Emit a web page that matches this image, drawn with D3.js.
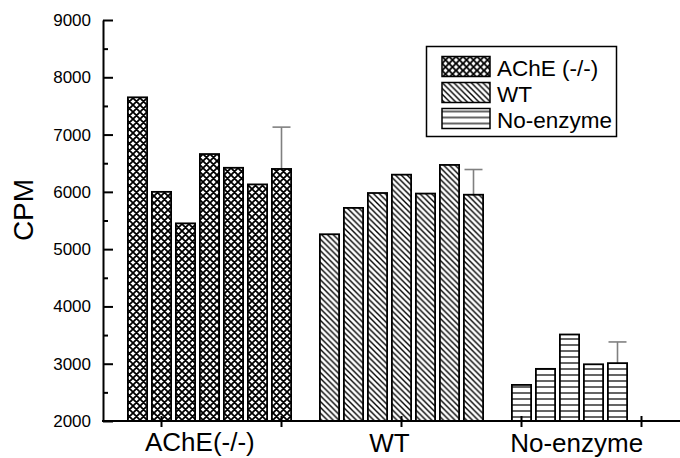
<!DOCTYPE html>
<html>
<head>
<meta charset="utf-8">
<script src="https://cdn.jsdelivr.net/npm/d3@7"></script>
<style>
  body { margin: 0; background: #fff; }
  text { font-family: "Liberation Sans", Arial, sans-serif; fill: #000; }
</style>
</head>
<body>
<div id="chart"></div>
<script>
// values
var groupNames = ["AChE(-/-)", "WT", "No-enzyme"];
var legendNames = ["AChE (-/-)", "WT", "No-enzyme"];
var acheValues = [7650, 6000, 5450, 6660, 6420, 6130, 6400];
var wtValues = [5260, 5720, 5980, 6300, 5970, 6470, 5950];
var noEnzValues = [2630, 2910, 3510, 2990, 3010];
var errValues = [730, 440, 370];   // only on last bar of each group
var yTicks = [2000, 3000, 4000, 5000, 6000, 7000, 8000, 9000];
var yMinorTicks = [2500, 3500, 4500, 5500, 6500, 7500, 8500];
var xTicks = [1, 2, 3, 4, 5];

var width = 680, height = 458;
var svg = d3.select("#chart").append("svg")
    .attr("width", width)
    .attr("height", height);

var x = d3.scaleLinear().domain([1, 5]).range([161.5, 641.5]);
var y = d3.scaleLinear().domain([2000, 9000]).range([421, 20]);
var barHalf = 0.08;

// fill patterns
var defs = svg.append("defs");
var cross = defs.append("pattern").attr("id", "p0")
    .attr("patternUnits", "userSpaceOnUse").attr("width", 7).attr("height", 7);
cross.append("rect").attr("width", 7).attr("height", 7).attr("fill", "#fff");
cross.append("path")
    .attr("d", "M0,0L7,7M-1,6L1,8M6,-1L8,1M7,0L0,7M-1,1L1,-1M6,8L8,6")
    .attr("stroke", "#000").attr("stroke-width", 1.8);

var diag = defs.append("pattern").attr("id", "p1")
    .attr("patternUnits", "userSpaceOnUse").attr("width", 5.8).attr("height", 5.8);
diag.append("rect").attr("width", 5.8).attr("height", 5.8).attr("fill", "#fff");
diag.append("path")
    .attr("d", "M0,0L5.8,5.8M-1,4.8L1,6.8M4.8,-1L6.8,1")
    .attr("stroke", "#000").attr("stroke-width", 1.4);

var horiz = defs.append("pattern").attr("id", "p2")
    .attr("patternUnits", "userSpaceOnUse").attr("width", 6).attr("height", 6);
horiz.append("rect").attr("width", 6).attr("height", 6).attr("fill", "#fff");
horiz.append("path").attr("d", "M0,3L6,3")
    .attr("stroke", "#222").attr("stroke-width", 1.4);

var series = [acheValues, wtValues, noEnzValues];
var bars = [];
series.forEach(function(vals, g) {
    vals.forEach(function(v, i) {
        bars.push({g: g, i: i, pos: 0.8 + g * 1.6 + i * 0.2, value: v,
                   last: i == vals.length - 1});
    });
});

// error bars (behind bars)
svg.append("g").selectAll("g")
    .data(bars.filter(function(d) { return d.last; }))
    .enter().append("g")
    .each(function(d) {
        var top = d.value + errValues[d.g];
        var g = d3.select(this);
        g.append("line")
            .attr("x1", x(d.pos)).attr("x2", x(d.pos))
            .attr("y1", y(d.value)).attr("y2", y(top))
            .attr("stroke", "#808080").attr("stroke-width", 1.6);
        g.append("line")
            .attr("x1", x(d.pos) - 9).attr("x2", x(d.pos) + 9)
            .attr("y1", y(top)).attr("y2", y(top))
            .attr("stroke", "#808080").attr("stroke-width", 1.6);
    });

// bars
svg.append("g").selectAll("rect")
    .data(bars)
    .enter().append("rect")
    .attr("x", function(d) { return x(d.pos - barHalf); })
    .attr("width", function(d) { return x(d.pos + barHalf) - x(d.pos - barHalf); })
    .attr("y", function(d) { return y(d.value); })
    .attr("height", function(d) { return y(2000) - y(d.value); })
    .attr("fill", function(d) { return "url(#p" + d.g + ")"; })
    .attr("stroke", "#000")
    .attr("stroke-width", 1.8);

// y axis
var yAxis = svg.append("g")
    .attr("transform", "translate(103,0)")
    .call(d3.axisLeft(y).tickValues(yTicks).tickSize(-10).tickSizeOuter(0)
        .tickPadding(12).tickFormat(d3.format("d")));
yAxis.select(".domain").attr("stroke-width", 2);
yAxis.selectAll(".tick line").attr("stroke-width", 2);
yAxis.selectAll(".tick text").style("font-size", "17px");

var yMinor = svg.append("g")
    .attr("transform", "translate(103,0)")
    .call(d3.axisLeft(y).tickValues(yMinorTicks).tickSize(-5).tickFormat(""));
yMinor.select(".domain").remove();
yMinor.selectAll(".tick line").attr("stroke-width", 2);

// x axis line and ticks
svg.append("line")
    .attr("x1", 102).attr("x2", 680)
    .attr("y1", y(2000)).attr("y2", y(2000))
    .attr("stroke", "#000").attr("stroke-width", 2);
svg.append("g").selectAll("line")
    .data(xTicks)
    .enter().append("line")
    .attr("x1", function(d) { return x(d); })
    .attr("x2", function(d) { return x(d); })
    .attr("y1", y(2000) - 5)
    .attr("y2", y(2000) + 6)
    .attr("stroke", "#000").attr("stroke-width", 2);

// category labels
var labelPos = [1.32, 2.9, 4.46];
var labelY = [450.5, 451.5, 452];
svg.append("g").selectAll("text")
    .data(groupNames)
    .enter().append("text")
    .attr("x", function(d, i) { return x(labelPos[i]); })
    .attr("y", function(d, i) { return labelY[i]; })
    .attr("text-anchor", "middle")
    .style("font-size", "26px")
    .text(function(d) { return d; });

// y title
svg.append("text")
    .attr("transform", "translate(33,210) rotate(-90)")
    .attr("text-anchor", "middle")
    .style("font-size", "28px")
    .text("CPM");

// legend
var legend = svg.append("g");
legend.append("rect")
    .attr("x", 426.5).attr("y", 46.5)
    .attr("width", 190).attr("height", 90)
    .attr("fill", "#fff").attr("stroke", "#000").attr("stroke-width", 1.5);
var item = legend.selectAll("g.item")
    .data(legendNames)
    .enter().append("g")
    .attr("class", "item")
    .attr("transform", function(d, i) { return "translate(442," + (56.5 + i * 26) + ")"; });
item.append("rect")
    .attr("width", 48).attr("height", 20)
    .attr("fill", function(d, i) { return "url(#p" + i + ")"; })
    .attr("stroke", "#000").attr("stroke-width", 1.5);
item.append("text")
    .attr("x", 55).attr("y", 19)
    .style("font-size", "22.5px")
    .text(function(d) { return d; });
</script>
</body>
</html>
